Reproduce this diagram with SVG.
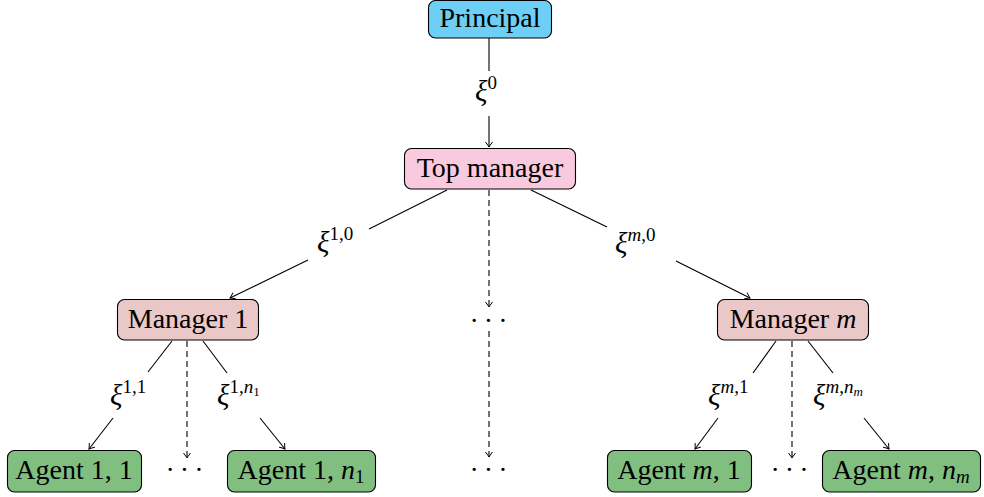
<svg xmlns="http://www.w3.org/2000/svg" width="984" height="497" viewBox="0 0 984 497">
<style>
.box{stroke:#000;stroke-width:1.1}
text{font-family:'Liberation Serif','Times New Roman',serif;fill:#000}
.t{font-size:28px}
.lbl{font-size:29px}
.sup{font-size:19px}
.c{stroke:#000;stroke-width:1.1;fill:none}
.d{stroke-dasharray:6 4}
.dots{font-size:28px;letter-spacing:5px}
</style>
<defs>
<marker id="ah" viewBox="-6 -5 8 10" refX="0" refY="0" markerWidth="8" markerHeight="10" markerUnits="userSpaceOnUse" orient="auto">
<path d="M-5,-3.5 Q-1,-0.5 0,0 Q-1,0.5 -5,3.5" fill="none" stroke="#000" stroke-width="1"/>
</marker>
</defs>
<g id="connectors">
<line class="c" x1="489" y1="38" x2="489" y2="71"/>
<line class="c" x1="489" y1="116" x2="489" y2="147" marker-end="url(#ah)"/>
<line class="c" x1="447" y1="190" x2="369" y2="229"/>
<line class="c" x1="308" y1="260" x2="230" y2="298" marker-end="url(#ah)"/>
<line class="c" x1="531" y1="190" x2="607" y2="227"/>
<line class="c" x1="676" y1="261" x2="750" y2="298" marker-end="url(#ah)"/>
<line class="c d" x1="489" y1="190" x2="489" y2="307" marker-end="url(#ah)"/>
<line class="c d" x1="489" y1="331" x2="489" y2="457" marker-end="url(#ah)"/>
<line class="c" x1="172" y1="341" x2="148" y2="372"/>
<line class="c" x1="113" y1="418" x2="89" y2="449" marker-end="url(#ah)"/>
<line class="c" x1="203" y1="341" x2="227" y2="373"/>
<line class="c" x1="260" y1="418" x2="285" y2="449" marker-end="url(#ah)"/>
<line class="c d" x1="187" y1="341" x2="187" y2="458" marker-end="url(#ah)"/>
<line class="c" x1="776" y1="341" x2="753" y2="373"/>
<line class="c" x1="718" y1="418" x2="695" y2="449" marker-end="url(#ah)"/>
<line class="c" x1="808" y1="341" x2="833" y2="373"/>
<line class="c" x1="864" y1="418" x2="889" y2="449" marker-end="url(#ah)"/>
<line class="c d" x1="792" y1="341" x2="792" y2="458" marker-end="url(#ah)"/>
</g>
<g id="edge-labels">
<text class="lbl" x="475" y="101"><tspan font-style="italic">ξ</tspan><tspan class="sup" dy="-12">0</tspan></text>
<text class="lbl" x="317" y="252"><tspan font-style="italic">ξ</tspan><tspan class="sup" dy="-12">1,0</tspan></text>
<text class="lbl" x="615" y="253"><tspan font-style="italic">ξ</tspan><tspan class="sup" dy="-12"><tspan font-style="italic">m</tspan>,0</tspan></text>
<text class="lbl" x="110" y="405"><tspan font-style="italic">ξ</tspan><tspan class="sup" dy="-12">1,1</tspan></text>
<text class="lbl" x="217" y="405"><tspan font-style="italic">ξ</tspan><tspan class="sup" dy="-12">1,<tspan font-style="italic">n</tspan><tspan font-size="13" dy="3">1</tspan></tspan></text>
<text class="lbl" x="708" y="405"><tspan font-style="italic">ξ</tspan><tspan class="sup" dy="-12"><tspan font-style="italic">m</tspan>,1</tspan></text>
<text class="lbl" x="813" y="405"><tspan font-style="italic">ξ</tspan><tspan class="sup" dy="-12"><tspan font-style="italic">m</tspan>,<tspan font-style="italic">n</tspan><tspan font-size="13" font-style="italic" dy="3">m</tspan></tspan></text>
</g>
<g id="ellipses">
<text class="dots" x="491" y="330" text-anchor="middle">···</text>
<text class="dots" x="491" y="479" text-anchor="middle">···</text>
<text class="dots" x="187" y="479" text-anchor="middle">···</text>
<text class="dots" x="792" y="479" text-anchor="middle">···</text>
</g>
<g id="principal">
<rect class="box" x="428.5" y="0.5" width="123" height="37.5" rx="7" fill="#6dcff6"/>
<text class="t" x="490" y="27" text-anchor="middle">Principal</text>
</g>
<g id="top-manager">
<rect class="box" x="404.5" y="148.5" width="171" height="40.5" rx="7" fill="#f9c9dd"/>
<text class="t" x="490" y="177" text-anchor="middle">Top manager</text>
</g>
<g id="manager-1">
<rect class="box" x="117.5" y="299.5" width="141" height="40.5" rx="7" fill="#eac8c8"/>
<text class="t" x="188" y="328" text-anchor="middle">Manager 1</text>
</g>
<g id="manager-m">
<rect class="box" x="717.5" y="299.5" width="151" height="40.5" rx="7" fill="#eac8c8"/>
<text class="t" x="793" y="328" text-anchor="middle">Manager <tspan font-style="italic">m</tspan></text>
</g>
<g id="agent-1-1">
<rect class="box" x="7.5" y="450.5" width="134" height="41.5" rx="7" fill="#80bf80"/>
<text class="t" x="74" y="479" text-anchor="middle">Agent 1, 1</text>
</g>
<g id="agent-1-n1">
<rect class="box" x="227.5" y="450.5" width="148" height="41.5" rx="7" fill="#80bf80"/>
<text class="t" x="301" y="479" text-anchor="middle">Agent 1, <tspan font-style="italic">n</tspan><tspan font-size="19" dy="4">1</tspan></text>
</g>
<g id="agent-m-1">
<rect class="box" x="607.5" y="450.5" width="144" height="41.5" rx="7" fill="#80bf80"/>
<text class="t" x="679" y="479" text-anchor="middle">Agent <tspan font-style="italic">m</tspan>, 1</text>
</g>
<g id="agent-m-nm">
<rect class="box" x="822.5" y="450.5" width="158" height="41.5" rx="7" fill="#80bf80"/>
<text class="t" x="901" y="479" text-anchor="middle">Agent <tspan font-style="italic">m</tspan>, <tspan font-style="italic">n</tspan><tspan font-size="19" font-style="italic" dy="4">m</tspan></text>
</g>
</svg>
